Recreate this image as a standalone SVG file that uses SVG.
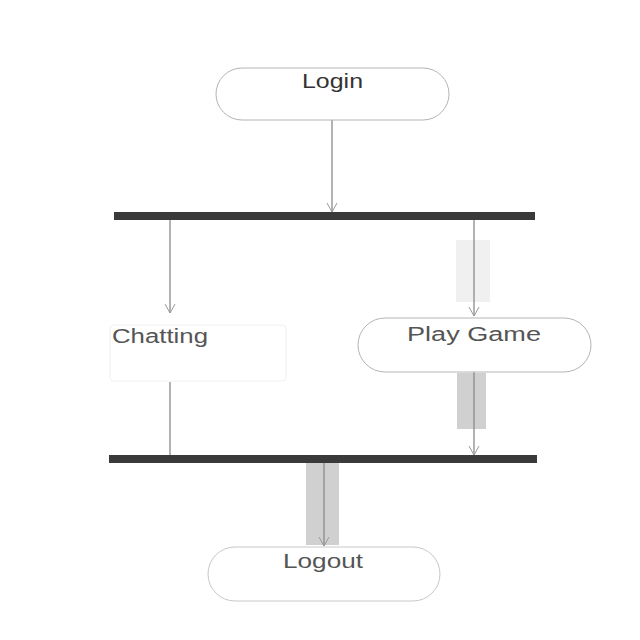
<svg xmlns="http://www.w3.org/2000/svg" width="640" height="640" viewBox="0 0 640 640">
<style>
.node{fill:#fff;stroke:#b4b4b4;stroke-width:1}
.lbl{font-family:"Liberation Sans",Arial,sans-serif;font-size:20px;fill:#555;text-anchor:middle}
.bar{fill:#3a3a3a}
.edge{stroke:#8a8a8a;stroke-width:1.3;fill:none}
.hl{fill:#d0d0d0}
</style>
<defs>
<marker id="arr" markerWidth="12" markerHeight="12" refX="10" refY="6" orient="auto" markerUnits="userSpaceOnUse">
<path d="M1,1 L10,6 L1,11" fill="none" stroke="#999" stroke-width="1"/>
</marker>
</defs>
<rect width="640" height="640" fill="#fff"/>
<g id="highlights">
<rect class="hl" x="457" y="373" width="29" height="56"/>
<rect class="hl" x="306" y="463" width="33" height="82"/>
<rect x="456" y="240" width="34" height="62" fill="#f0f0f0"/>
</g>
<g id="connectors">
<line class="edge" x1="332" y1="120" x2="332" y2="212" marker-end="url(#arr)"/>
<line class="edge" x1="170" y1="220" x2="170" y2="313" marker-end="url(#arr)" stroke="#c8c8c8"/>
<line class="edge" x1="474" y1="220" x2="474" y2="316" marker-end="url(#arr)"/>
<line class="edge" x1="474" y1="372" x2="474" y2="455" marker-end="url(#arr)" stroke="#666"/>
<line class="edge" x1="170" y1="382" x2="170" y2="455" stroke="#c8c8c8"/>
<line class="edge" x1="324" y1="463" x2="324" y2="546" marker-end="url(#arr)" stroke="#555"/>
</g>
<g id="login">
<rect class="node" x="216" y="68" width="233" height="52" rx="26"/>
<text class="lbl" x="332.5" y="88" style="fill:#333" textLength="61" lengthAdjust="spacingAndGlyphs">Login</text>
</g>
<g id="fork">
<rect class="bar" x="114" y="212" width="421" height="8"/>
</g>
<g id="chatting">
<rect class="node" x="110" y="325" width="176" height="56" rx="4" style="stroke:#f0f0f0"/>
<text class="lbl" x="160" y="343" textLength="96" lengthAdjust="spacingAndGlyphs">Chatting</text>
</g>
<g id="playgame">
<rect class="node" x="358" y="318" width="233" height="54" rx="27"/>
<text class="lbl" x="474" y="341" textLength="134" lengthAdjust="spacingAndGlyphs">Play Game</text>
</g>
<g id="logout">
<rect class="node" x="208" y="547" width="232" height="54" rx="27" style="stroke:#c8c8c8"/>
<text class="lbl" x="323" y="568" textLength="80" lengthAdjust="spacingAndGlyphs">Logout</text>
</g>
<g id="join">
<rect class="bar" x="109" y="455" width="428" height="8"/>
</g>
</svg>
